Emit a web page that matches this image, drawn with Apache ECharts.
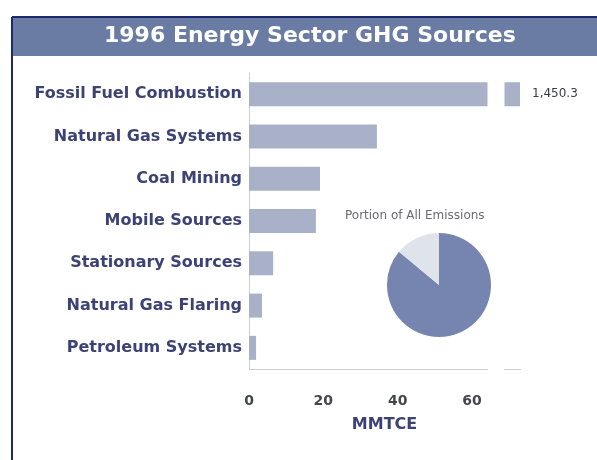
<!DOCTYPE html>
<html>
<head>
<meta charset="utf-8">
<script src="https://cdn.jsdelivr.net/npm/echarts@6.0.0/dist/echarts.min.js"></script>
<style>
html,body{margin:0;padding:0;background:#fff;}
#chart{width:597px;height:460px;}
</style>
</head>
<body>
<div id="chart"></div>
<script>
// values (MMTCE)
var sources = ['Fossil Fuel Combustion', 'Natural Gas Systems', 'Coal Mining', 'Mobile Sources',
    'Stationary Sources', 'Natural Gas Flaring', 'Petroleum Systems'];
var emissions = [1450.3, 34.4, 19.1, 18.0, 6.5, 3.5, 1.9];
var xTicks = [0, 20, 40, 60];
var shareNames = ['Energy', 'Other'];
var shareValues = [86, 14];

var chart = echarts.init(document.getElementById('chart'));

var option = {
    backgroundColor: '#fff',
    animation: false,
    title: [
        {
            text: '1996 Energy Sector GHG Sources',
            left: 104,
            top: 25,
            padding: 0,
            textStyle: {color: '#fff', fontFamily: 'DejaVu Sans', fontWeight: 'bold', fontSize: 22}
        },
        {
            text: 'Portion of All Emissions',
            left: 345,
            top: 210,
            padding: 0,
            textStyle: {color: '#6a6a72', fontFamily: 'DejaVu Sans', fontWeight: 'normal', fontSize: 12}
        }
    ],
    graphic: [
        {type: 'rect', z: -1, shape: {x: 11, y: 17, width: 590, height: 39}, style: {fill: '#6b7ca4'}},
        {type: 'line', shape: {x1: 12, y1: 17, x2: 597, y2: 17}, style: {stroke: '#1c2a6c', lineWidth: 2}},
        {type: 'line', shape: {x1: 12, y1: 17, x2: 12, y2: 460}, style: {stroke: '#1c2a6c', lineWidth: 2}}
    ],
    grid: {left: 249, top: 73, width: 271, height: 296, containLabel: false},
    yAxis: {
        type: 'category',
        inverse: true,
        data: sources,
        axisTick: {show: false},
        axisLine: {show: true, lineStyle: {color: '#c9cdd6', width: 1}},
        axisLabel: {
            margin: 7,
            color: '#3d4275',
            fontFamily: 'DejaVu Sans',
            fontWeight: 'bold',
            fontSize: 16
        }
    },
    xAxis: {
        type: 'value',
        min: 0,
        max: 1450.3,
        interval: 20,
        breaks: [{start: 64, end: 1446, gap: 4.6}],
        breakArea: {
            show: true,
            zigzagAmplitude: 0,
            zigzagMinSpan: 1,
            zigzagMaxSpan: 2,
            itemStyle: {color: '#fff', borderColor: '#fff', borderWidth: 0, opacity: 1},
            expandOnClick: false
        },
        splitLine: {show: false},
        axisTick: {show: false},
        axisLine: {show: true, lineStyle: {color: '#c9cdd6', width: 1}},
        axisLabel: {
            margin: 25,
            customValues: xTicks,
            color: '#45474f',
            fontFamily: 'DejaVu Sans',
            fontWeight: 'bold',
            fontSize: 14
        },
        name: 'MMTCE',
        nameLocation: 'middle',
        nameGap: 48,
        nameTextStyle: {color: '#3d4275', fontFamily: 'DejaVu Sans', fontWeight: 'bold', fontSize: 16}
    },
    series: [
        {
            type: 'bar',
            data: emissions.map(function (v, i) {
                var d = {value: v};
                if (i === 0) {
                    d.label = {
                        show: true,
                        position: 'right',
                        distance: 12,
                        color: '#3a3a44',
                        fontFamily: 'DejaVu Sans',
                        fontSize: 12,
                        formatter: function (p) {
                            return p.value.toLocaleString('en-US', {minimumFractionDigits: 1});
                        }
                    };
                }
                return d;
            }),
            barWidth: 24,
            itemStyle: {color: '#a8b1c7'}
        },
        {
            type: 'pie',
            zlevel: 1,
            center: [439, 285],
            radius: 52,
            startAngle: 90,
            label: {show: false},
            labelLine: {show: false},
            silent: true,
            data: shareNames.map(function (n, i) {
                return {name: n, value: shareValues[i]};
            }),
            color: ['#7585b0', '#dfe4ea']
        }
    ]
};

chart.setOption(option);
</script>
</body>
</html>
